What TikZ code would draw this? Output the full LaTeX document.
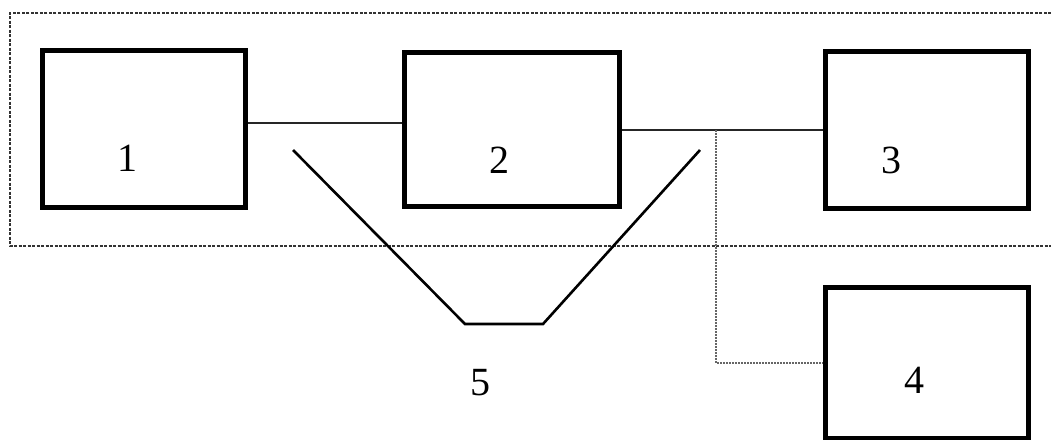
\documentclass[tikz,border=0pt]{standalone}
\usepackage{fontspec}
\setmainfont{Liberation Serif}
\begin{document}
\begin{tikzpicture}[x=1pt,y=-1pt,
  blk/.style={draw=black,line width=5pt,minimum width=203pt,minimum height=157pt,inner sep=0pt},
  lbl/.style={font=\fontsize{40}{48}\selectfont,inner sep=0pt},
  wire/.style={draw=black!85,line width=2pt},
  dotline/.style={draw=black!60,line width=1.2pt,dash pattern=on 1.5pt off 1.5pt},
  frame/.style={draw=black!80,line width=1.6pt,dash pattern=on 3pt off 1.5pt}]
\useasboundingbox (0,0) rectangle (1051,439);
\fill[white] (0,0) rectangle (1051,439);
% outer dotted frame
\draw[frame] (1060,13) -- (10,13) -- (10,246) -- (1060,246);
% boxes
\node[blk] (b1) at (144,129) {};
\node[blk,minimum width=215pt,minimum height=154pt] (b2) at (512,129.5) {};
\node[blk] (b3) at (927,130) {};
\node[blk,minimum height=151pt] (b4) at (927,363) {};
% labels
\node[lbl] (l1) at (127,158) {1};
\node[lbl] (l2) at (499,160) {2};
\node[lbl] (l3) at (891,160) {3};
\node[lbl] (l4) at (914,380) {4};
\node[lbl] (l5) at (480,383) {5};
% connectors
\draw[wire] ([yshift=6pt]b1.east) -- ([yshift=6.5pt]b2.west);
\draw[wire] (b2.east) -- (b3.west |- b2.east);
\coordinate (tap) at (716,130);
\draw[dotline] (tap) |- (b4.west);
% V shape
\coordinate (v1) at (293,150);
\coordinate (v2) at (465,324);
\coordinate (v3) at (543,324);
\coordinate (v4) at (700,150);
\draw[black,line width=2.6pt] (v1) -- (v2) -- (v3) -- (v4);
\end{tikzpicture}
\end{document}
